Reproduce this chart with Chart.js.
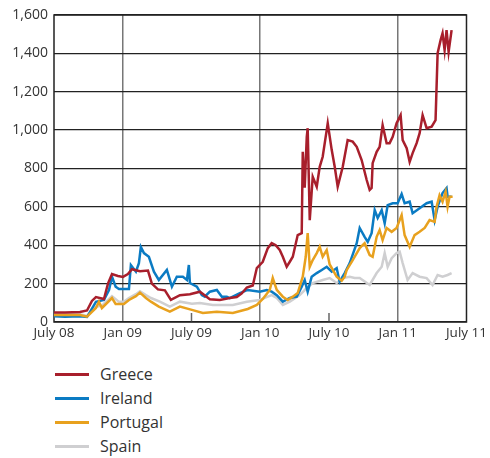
<!DOCTYPE html>
<html lang="en">
<head>
    <meta charset="UTF-8">
    <title>Spreads</title>
    <script src="https://cdn.jsdelivr.net/npm/chart.js"></script>
    <style>
        body { margin: 0; background: #fff; font-family: "Open Sans", sans-serif; }
        #wrap { position: relative; width: 490px; height: 347px; }
        #legend { position: absolute; top: 362px; left: 55px; }
        .row { height: 24px; line-height: 24px; font-size: 16px; color: #333; white-space: nowrap; }
        .swatch { display: inline-block; width: 34px; height: 3px; vertical-align: middle; margin-right: 11px; position: relative; top: -1px; }
    </style>
</head>
<body>
    <div id="wrap"><canvas id="chart" width="490" height="347"></canvas></div>
    <div id="legend"></div>

    <script>
        // months since July 2008, tick labels every 6 months
        var tickLabels = ['July 08', 'Jan 09', 'July 09', 'Jan 10', 'July 10', 'Jan 11', 'July 11'];

        var greeceMonths = [0, 0.96, 2.27, 2.88, 3.31, 3.66, 4.36, 4.71, 5.06, 5.58, 6.02, 6.45, 6.8, 7.5, 8.2, 8.54, 9.07, 9.68, 10.2, 10.99, 11.86, 12.73, 13.6, 14.47, 15.34, 15.95, 16.39, 16.83, 17.35, 17.7, 18.22, 18.66, 19.0, 19.35, 19.7, 19.97, 20.31, 20.58, 20.84, 21.27, 21.62, 21.71, 21.88, 22.06, 22.14, 22.32, 22.58, 22.93, 23.19, 23.45, 23.8, 23.89, 24.24, 24.5, 24.76, 25.2, 25.63, 26.07, 26.42, 26.85, 27.29, 27.55, 27.72, 27.81, 28.16, 28.42, 28.68, 29.03, 29.29, 29.56, 29.9, 30.25, 30.43, 30.78, 31.04, 31.3, 31.65, 31.91, 32.17, 32.52, 32.96, 33.3, 33.48, 33.74, 33.91, 34.09, 34.26, 34.44, 34.7];
        var greeceValues = [50, 50, 52, 60, 110, 130, 120, 200, 250, 240, 235, 250, 275, 265, 268, 200, 170, 165, 115, 140, 145, 158, 118, 115, 125, 130, 150, 180, 190, 281, 314, 385, 411, 400, 375, 340, 288, 314, 340, 453, 463, 887, 700, 965, 1010, 531, 757, 705, 809, 861, 1000, 1036, 896, 809, 705, 809, 948, 940, 913, 844, 740, 688, 698, 828, 887, 913, 1026, 932, 932, 965, 1036, 1078, 948, 906, 835, 880, 932, 984, 1078, 1010, 1018, 1052, 1401, 1469, 1505, 1417, 1521, 1408, 1521];

        var irelandMonths = [0, 0.96, 2.27, 2.88, 3.66, 4.36, 4.8, 5.06, 5.38, 5.67, 6.54, 6.71, 7.15, 7.41, 7.58, 7.85, 8.28, 8.72, 9.15, 9.85, 10.29, 10.72, 11.25, 11.6, 11.77, 11.86, 12.47, 12.9, 13.16, 13.6, 14.21, 14.65, 15.08, 15.34, 16.22, 16.91, 17.96, 18.57, 19.0, 19.44, 19.97, 20.58, 21.19, 21.62, 21.88, 22.14, 22.49, 22.93, 23.37, 23.8, 24.24, 24.67, 24.93, 25.37, 25.81, 26.42, 26.68, 27.11, 27.38, 27.72, 27.99, 28.25, 28.6, 28.86, 29.12, 29.56, 29.99, 30.34, 30.6, 31.04, 31.3, 31.91, 32.52, 32.96, 33.22, 33.48, 33.91, 34.26, 34.35, 34.7];
        var irelandValues = [30, 28, 30, 26, 105, 115, 167, 236, 184, 172, 172, 297, 262, 307, 391, 359, 340, 262, 219, 271, 184, 236, 236, 219, 297, 203, 184, 140, 132, 158, 167, 132, 132, 125, 151, 167, 158, 167, 158, 140, 106, 125, 132, 184, 219, 158, 236, 255, 271, 288, 262, 281, 210, 255, 307, 411, 490, 444, 418, 463, 583, 542, 583, 515, 609, 619, 619, 667, 619, 627, 567, 593, 619, 627, 531, 601, 672, 698, 653, 653];

        var portugalMonths = [0, 0.96, 2.27, 2.88, 3.66, 3.92, 4.18, 5.06, 5.38, 6.1, 6.54, 7.15, 7.5, 8.02, 8.46, 9.15, 10.11, 10.99, 12.03, 12.99, 14.21, 15.61, 16.91, 17.7, 18.22, 18.83, 19.09, 19.44, 19.97, 20.4, 20.84, 21.27, 21.71, 21.97, 22.14, 22.32, 22.58, 22.93, 23.19, 23.45, 23.8, 24.06, 24.67, 25.11, 25.37, 25.54, 26.07, 26.68, 27.11, 27.55, 27.81, 28.16, 28.42, 28.68, 29.03, 29.47, 29.9, 30.34, 30.6, 31.04, 31.47, 31.91, 32.35, 32.78, 33.22, 33.39, 33.65, 33.91, 34.18, 34.35, 34.52, 34.79];
        var portugalValues = [36, 36, 36, 28, 73, 106, 73, 125, 94, 94, 115, 135, 153, 125, 106, 80, 54, 80, 63, 47, 54, 47, 68, 89, 120, 167, 229, 167, 132, 115, 132, 151, 236, 340, 463, 288, 323, 359, 392, 340, 375, 300, 236, 215, 236, 270, 323, 385, 411, 349, 340, 444, 479, 427, 490, 470, 490, 557, 453, 392, 453, 470, 490, 531, 522, 601, 661, 627, 679, 601, 653, 653];

        var spainMonths = [0, 0.96, 2.27, 2.88, 3.66, 4.18, 5.06, 5.67, 6.1, 6.54, 7.15, 7.5, 8.02, 8.46, 9.24, 10.11, 10.99, 12.03, 12.73, 13.86, 15.61, 16.83, 17.96, 18.66, 19.0, 19.44, 19.97, 20.58, 21.45, 22.06, 22.58, 23.45, 24.06, 24.67, 25.2, 25.81, 26.24, 26.68, 27.55, 28.16, 28.6, 28.86, 29.12, 29.47, 29.9, 30.17, 30.43, 30.86, 31.3, 31.91, 32.52, 33.04, 33.48, 33.91, 34.35, 34.7];
        var spainValues = [40, 40, 40, 32, 80, 85, 135, 105, 105, 125, 145, 160, 140, 125, 106, 80, 106, 95, 99, 89, 89, 106, 115, 132, 140, 125, 89, 106, 140, 177, 203, 219, 229, 203, 229, 236, 229, 229, 193, 255, 288, 359, 288, 333, 359, 366, 307, 219, 255, 236, 229, 193, 245, 236, 245, 255];

        function puntos(meses, valores) {
            return meses.map(function (m, i) { return { x: m, y: valores[i] }; });
        }

        var series = [
            { label: 'Greece', color: '#a81f2c', data: puntos(greeceMonths, greeceValues), order: 0 },
            { label: 'Ireland', color: '#0b7bc3', data: puntos(irelandMonths, irelandValues), order: 2 },
            { label: 'Portugal', color: '#e8a11e', data: puntos(portugalMonths, portugalValues), order: 1 },
            { label: 'Spain', color: '#cfcfd1', data: puntos(spainMonths, spainValues), order: 3 }
        ];

        // marco del grafico y marcas cortas de julio
        var framePlugin = {
            id: 'frame',
            beforeDatasetsDraw: function (chart) {
                var ctx = chart.ctx, a = chart.chartArea, xs = chart.scales.x;
                ctx.save();
                ctx.strokeStyle = '#666';
                ctx.lineWidth = 1.5;
                [12, 24].forEach(function (v) {
                    var px = xs.getPixelForValue(v);
                    ctx.beginPath();
                    ctx.moveTo(px, a.bottom);
                    ctx.lineTo(px, a.bottom - 9);
                    ctx.stroke();
                });
                ctx.strokeStyle = '#222';
                ctx.strokeRect(a.left, a.top, a.right - a.left, a.bottom - a.top);
                ctx.restore();
            }
        };

        var chart = new Chart(document.getElementById('chart').getContext('2d'), {
            type: 'line',
            data: {
                datasets: series.map(function (s) {
                    return {
                        label: s.label,
                        data: s.data,
                        borderColor: s.color,
                        borderWidth: 2.5,
                        pointRadius: 0,
                        fill: false,
                        tension: 0,
                        order: s.order
                    };
                })
            },
            options: {
                responsive: false,
                animation: false,
                layout: { autoPadding: false, padding: { top: 15, right: 23, left: 1, bottom: 0 } },
                plugins: { legend: { display: false }, tooltip: { enabled: false } },
                scales: {
                    x: {
                        type: 'linear',
                        min: 0,
                        max: 36,
                        border: { display: false },
                        afterFit: function (scale) { scale.height = 25; },
                        afterBuildTicks: function (scale) {
                            scale.ticks = tickLabels.map(function (t, i) { return { value: i * 6 }; });
                        },
                        ticks: {
                            autoSkip: false,
                            maxRotation: 0,
                            padding: 3,
                            color: '#333',
                            font: { family: 'Open Sans', size: 13.5 },
                            callback: function (v) { return tickLabels[Math.round(v / 6)]; }
                        },
                        grid: {
                            drawTicks: false,
                            lineWidth: 1.5,
                            color: function (c) {
                                return (c.tick && c.tick.value % 12 === 6) ? '#777' : 'rgba(0,0,0,0)';
                            }
                        }
                    },
                    y: {
                        min: 0,
                        max: 1600,
                        border: { display: false },
                        afterFit: function (scale) { scale.width = 53; },
                        ticks: {
                            stepSize: 200,
                            padding: 6,
                            color: '#333',
                            font: { family: 'Open Sans', size: 14 },
                            callback: function (v) { return v.toLocaleString('en-US'); }
                        },
                        grid: { drawTicks: false, color: '#222', lineWidth: 1.3 }
                    }
                }
            },
            plugins: [framePlugin]
        });

        // leyenda en HTML, una fila por serie
        var legendDiv = document.getElementById('legend');
        series.forEach(function (s) {
            var row = document.createElement('div');
            row.className = 'row';
            row.innerHTML = '<span class="swatch" style="background:' + s.color + '"></span>' + s.label;
            legendDiv.appendChild(row);
        });
    </script>
</body>
</html>
